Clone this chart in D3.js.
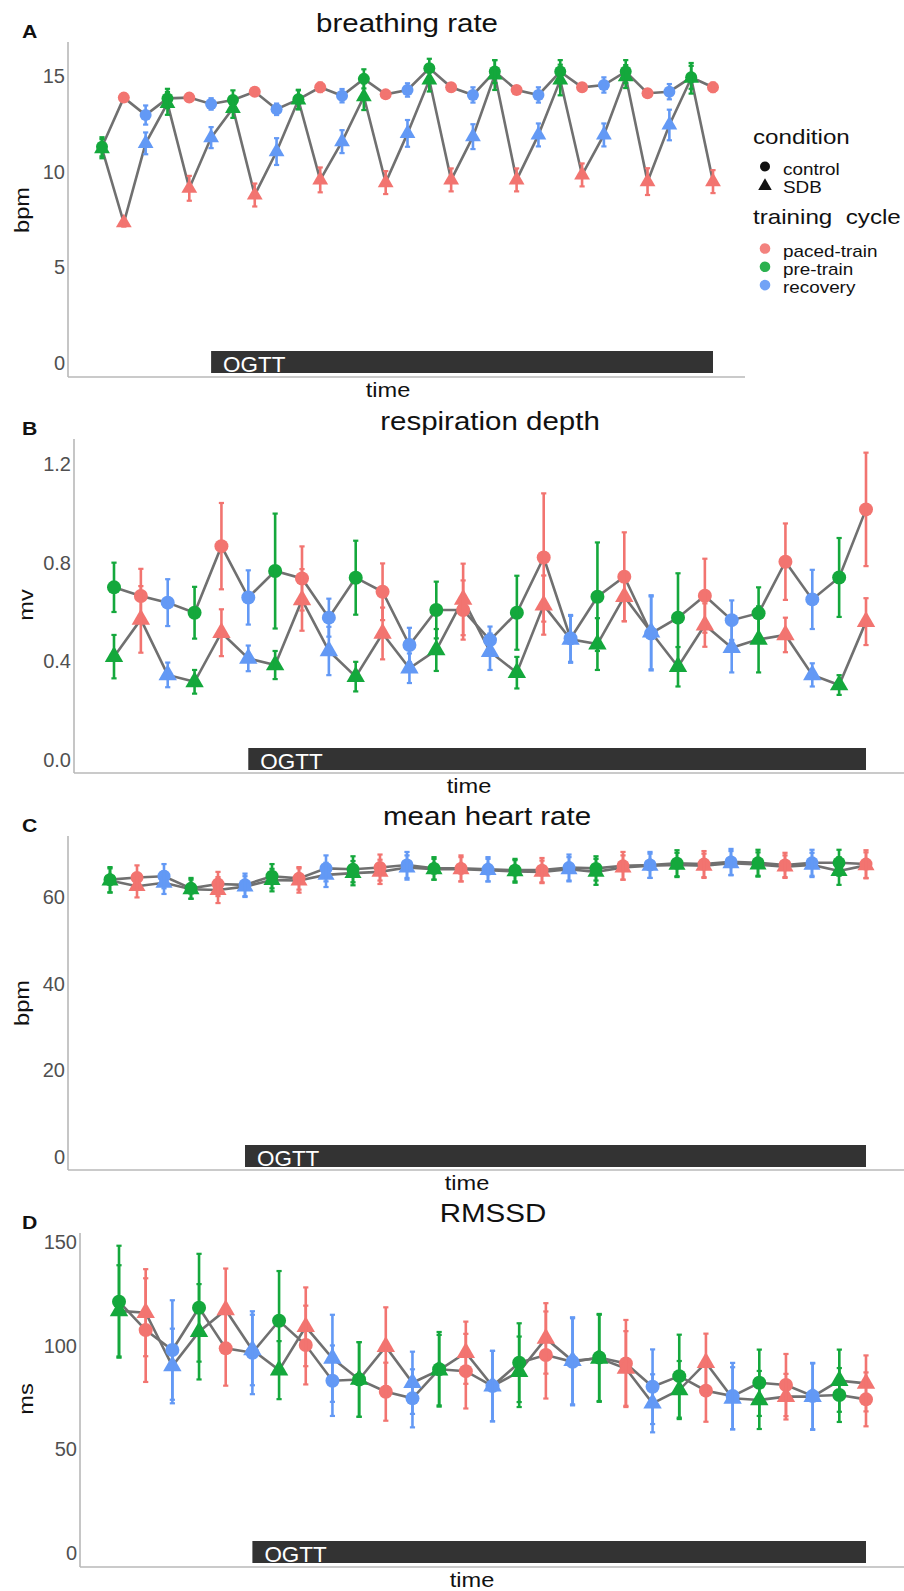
<!DOCTYPE html>
<html>
<head>
<meta charset="utf-8">
<title>breathing / respiration / heart rate / RMSSD</title>
<script src="https://cdn.jsdelivr.net/npm/d3@7"></script>
<style>
  body { margin: 0; background: #fff; }
  svg { display: block; font-family: "Liberation Sans", Arial, sans-serif; }
  .tick text { fill: #505050; font-size: 20px; }
</style>
</head>
<body>
<svg id="chart" width="904" height="1591"></svg>
<script>
// ---- data ----
const times = [1,2,3,4,5,6,7,8,9,10,11,12,13,14,15,16,17,18,19,20,21,22,23,24,25,26,27,28,29];
const cycle = ["pre-train","paced-train","recovery","pre-train","paced-train","recovery","pre-train","paced-train","recovery",
  "pre-train","paced-train","recovery","pre-train","paced-train","recovery","pre-train","paced-train","recovery",
  "pre-train","paced-train","recovery","pre-train","paced-train","recovery","pre-train","paced-train","recovery",
  "pre-train","paced-train"];
const ogttSpan = [6, 29];

const cycleNames = ["paced-train","pre-train","recovery"];
const cycleColors = ["#F27470","#14A83C","#6399F5"];
const conditionNames = ["control","SDB"];

// A breathing rate (bpm)
const breathCtrl = [11.3,13.87,12.96,13.83,13.87,13.54,13.75,14.18,13.26,13.78,14.41,13.97,14.85,14.04,14.27,15.4,14.41,14.01,15.23,14.27,14.01,15.23,14.41,14.53,15.23,14.1,14.18,14.93,14.41];
const breathCtrlErr = [0.5,0.2,0.5,0.5,0.2,0.3,0.5,0.2,0.3,0.5,0.25,0.35,0.5,0.15,0.35,0.5,0.2,0.4,0.6,0.2,0.4,0.6,0.2,0.4,0.6,0.2,0.4,0.6,0.25];
const breathSdb = [11.2,7.33,11.48,13.57,9.13,11.78,13.31,8.78,11.05,13.75,9.57,11.57,13.92,9.43,12.0,14.79,9.57,11.83,15.05,9.57,11.92,14.79,9.83,11.92,14.97,9.48,12.44,14.88,9.48];
const breathSdbErr = [0.5,0.2,0.57,0.6,0.65,0.55,0.5,0.6,0.7,0.5,0.65,0.6,0.7,0.6,0.7,0.6,0.6,0.65,0.78,0.6,0.6,0.8,0.6,0.6,0.6,0.7,0.8,0.8,0.6];

// B respiration depth (mv)
const respCtrl = [0.70,0.665,0.638,0.597,0.867,0.659,0.766,0.736,0.577,0.739,0.682,0.466,0.608,0.608,0.486,0.597,0.821,0.493,0.662,0.743,0.513,0.577,0.666,0.567,0.595,0.804,0.651,0.74,1.016];
const respCtrlErr = [0.10,0.11,0.095,0.105,0.175,0.11,0.233,0.13,0.077,0.15,0.115,0.07,0.115,0.12,0.055,0.15,0.26,0.095,0.22,0.18,0.15,0.18,0.15,0.08,0.105,0.155,0.12,0.16,0.23];
const respSdb = [0.419,0.570,0.345,0.317,0.516,0.412,0.385,0.649,0.442,0.338,0.513,0.372,0.446,0.651,0.439,0.354,0.628,0.489,0.470,0.662,0.518,0.378,0.547,0.455,0.489,0.507,0.345,0.304,0.561];
const respSdbErr = [0.088,0.135,0.05,0.048,0.095,0.052,0.057,0.125,0.098,0.06,0.105,0.06,0.085,0.145,0.074,0.064,0.12,0.095,0.105,0.10,0.15,0.08,0.088,0.10,0.134,0.07,0.047,0.04,0.095];

// C mean heart rate (bpm)
const heartCtrl = [64.0,64.5,64.8,62.0,63.0,62.8,64.8,64.3,66.6,66.4,66.8,67.4,66.6,66.6,66.4,66.2,66.2,66.8,66.6,67.2,67.4,67.8,67.6,68.1,67.9,67.4,67.9,67.9,67.6];
const heartCtrlErr = [2.9,2.8,2.8,2.4,2.8,2.6,2.8,2.6,3.0,3.0,3.0,3.0,2.6,3.0,2.8,2.6,2.8,3.0,2.8,3.2,3.0,3.0,3.0,3.0,3.0,2.8,3.0,3.0,3.2];
const heartSdb = [63.8,62.5,63.3,61.8,61.6,62.4,63.9,63.8,65.1,65.5,65.8,66.8,66.4,66.4,66.2,65.9,65.8,66.4,65.8,66.8,67.2,67.4,67.2,67.8,67.5,67.0,67.4,66.0,67.3];
const heartSdbErr = [2.8,2.6,2.6,2.2,3.0,2.4,2.6,2.8,2.8,2.8,2.8,2.8,2.4,2.8,2.6,2.6,2.6,2.8,3.0,2.8,2.8,2.8,2.8,2.8,2.8,2.6,2.8,3.2,3.0];

// D RMSSD (ms)
const rmssdCtrl = [121.2,107.5,97.9,118.3,98.7,96.6,112.0,100.3,83.1,83.7,77.8,74.6,88.6,87.7,80.5,91.8,95.5,92.2,94.3,91.4,80.2,85.3,78.3,75.7,82.1,81.0,75.7,76.2,74.1];
const rmssdCtrlErr = [27,25,24,26,18,20,24,19,17,18,14,14,18,18,17,19,21,21,21,21,18,20,15,16,16,15,16,13,13];
const rmssdSdb = [116.8,115.9,90.2,106.7,117.2,97.9,88.2,109.1,93.9,83.7,99.5,82.1,88.2,96.6,80.5,87.4,103.5,92.7,93.9,89.0,72.2,78.6,91.8,74.6,73.8,75.4,75.4,83.1,81.8];
const rmssdSdbErr = [22,21,18,23,20,17,14,19,21,18,19,15,17,15,17,17,17,21,21,18,14,14,14,15,14,11,16,15,13.5];

// ---- layout ----
const SX = 1.18;   // the figure's lettering is wider than Arial
const color = d3.scaleOrdinal().domain(cycleNames).range(cycleColors);
const svg = d3.select("#chart");

const panels = [
  {letter:"A", title:"breathing rate", ylab:"bpm", ctrl:breathCtrl, ctrlErr:breathCtrlErr, sdb:breathSdb, sdbErr:breathSdbErr,
   ticks:[0,5,10,15], yMax:15, fmt:d3.format("d"),
   axisX:68, top:42, bottom:377, right:745, xr:[102,713], yr:[363,76],
   titleX:407, titleY:32, letterY:38, timeX:388, ylabX:29, ylabY:210, r:6},
  {letter:"B", title:"respiration depth", ylab:"mv", ctrl:respCtrl, ctrlErr:respCtrlErr, sdb:respSdb, sdbErr:respSdbErr,
   ticks:[0,0.4,0.8,1.2], yMax:1.2, fmt:d3.format(".1f"),
   axisX:74, top:439, bottom:773, right:904, xr:[114,866], yr:[760,464],
   titleX:490, titleY:430, letterY:435, timeX:469, ylabX:33, ylabY:605, r:7},
  {letter:"C", title:"mean heart rate", ylab:"bpm", ctrl:heartCtrl, ctrlErr:heartCtrlErr, sdb:heartSdb, sdbErr:heartSdbErr,
   ticks:[0,20,40,60], yMax:60, fmt:d3.format("d"),
   axisX:68, top:836, bottom:1170, right:904, xr:[110,866], yr:[1157,897],
   titleX:487, titleY:825, letterY:832, timeX:467, ylabX:29, ylabY:1003, r:6.5},
  {letter:"D", title:"RMSSD", ylab:"ms", ctrl:rmssdCtrl, ctrlErr:rmssdCtrlErr, sdb:rmssdSdb, sdbErr:rmssdSdbErr,
   ticks:[0,50,100,150], yMax:150, fmt:d3.format("d"),
   axisX:80, top:1233, bottom:1567, right:904, xr:[119,866], yr:[1553,1242],
   titleX:493, titleY:1222, letterY:1229, timeX:472, ylabX:33, ylabY:1399, r:7}
];

function addText(g, x, y, str, size, o) {
  o = o || {};
  var tf = "translate(" + x + "," + y + ")" + (o.rotate ? " rotate(-90)" : "") + " scale(" + (o.sx || SX) + ",1)";
  var t = g.append("text")
    .attr("transform", tf)
    .attr("font-size", size)
    .attr("text-anchor", o.anchor || "start")
    .attr("fill", o.fill || "#111")
    .style("white-space", "pre")
    .text(str);
  if (o.bold) t.attr("font-weight", "bold");
  return t;
}

panels.forEach(function(p) {
  var g = svg.append("g");
  var x = d3.scaleLinear().domain([times[0], times[times.length - 1]]).range(p.xr);
  var y = d3.scaleLinear().domain([0, p.yMax]).range(p.yr);

  // axes
  var ya = g.append("g")
    .attr("transform", "translate(" + p.axisX + ",0)")
    .call(d3.axisLeft(y).tickValues(p.ticks).tickFormat(p.fmt).tickSize(0).tickPadding(3));
  ya.select(".domain").remove();
  ya.selectAll("text").attr("font-family", null).attr("font-size", null);

  g.append("line").attr("x1", p.axisX).attr("x2", p.axisX).attr("y1", p.top).attr("y2", p.bottom)
    .attr("stroke", "#b8b8b8").attr("stroke-width", 1.6);
  g.append("line").attr("x1", p.axisX).attr("x2", p.right).attr("y1", p.bottom).attr("y2", p.bottom)
    .attr("stroke", "#b8b8b8").attr("stroke-width", 1.6);

  // OGTT bar
  g.append("rect")
    .attr("x", x(ogttSpan[0])).attr("width", x(ogttSpan[1]) - x(ogttSpan[0]))
    .attr("y", y(0) - 12).attr("height", 22)
    .attr("fill", "#333333");
  addText(g, x(ogttSpan[0]) + 12, y(0) + 8.5, "OGTT", 22, {fill:"#fff", sx:1.02});

  // data rows
  var rows = times.map(function(t, i) {
    return {t:t, cyc:cycle[i], c:p.ctrl[i], ce:p.ctrlErr[i], s:p.sdb[i], se:p.sdbErr[i]};
  });

  var line = d3.line().x(function(d){ return x(d.t); });
  g.append("path").datum(rows).attr("fill", "none").attr("stroke", "#707070").attr("stroke-width", 2.6)
    .attr("d", line.y(function(d){ return y(d.c); }));
  g.append("path").datum(rows).attr("fill", "none").attr("stroke", "#707070").attr("stroke-width", 2.6)
    .attr("d", line.y(function(d){ return y(d.s); }));

  // points
  g.selectAll(".pc").data(rows).enter().append("circle")
    .attr("cx", function(d){ return x(d.t); }).attr("cy", function(d){ return y(d.c); })
    .attr("r", p.r).attr("fill", function(d){ return color(d.cyc); });
  var tri = d3.symbol().type(d3.symbolTriangle).size(p.r * p.r * 3.0);
  g.selectAll(".ps").data(rows).enter().append("path")
    .attr("transform", function(d){ return "translate(" + x(d.t) + "," + y(d.s) + ")"; })
    .attr("d", tri).attr("fill", function(d){ return color(d.cyc); });

  // error bars
  function errBars(val, err) {
    var eg = g.append("g");
    rows.forEach(function(d) {
      var cx = x(d.t), lo = y(d[val] - d[err]), hi = y(d[val] + d[err]), col = color(d.cyc);
      eg.append("line").attr("x1", cx).attr("x2", cx).attr("y1", lo).attr("y2", hi)
        .attr("stroke", col).attr("stroke-width", 2.6);
      [lo, hi].forEach(function(yy) {
        eg.append("line").attr("x1", cx - 2.6).attr("x2", cx + 2.6).attr("y1", yy).attr("y2", yy)
          .attr("stroke", col).attr("stroke-width", 2.2);
      });
    });
  }
  errBars("c", "ce");
  errBars("s", "se");

  // labels
  addText(g, 22, p.letterY, p.letter, 18, {bold:true});
  addText(g, p.titleX, p.titleY, p.title, 25, {anchor:"middle"});
  addText(g, p.timeX, p.bottom + 19.5, "time", 20, {anchor:"middle"});
  addText(g, p.ylabX, p.ylabY, p.ylab, 20, {anchor:"middle", rotate:true});
});

// legend (panel A)
var lg = svg.append("g");
addText(lg, 753, 144, "condition", 20.5);
conditionNames.forEach(function(name, i) {
  var cy = 166.5 + i * 18.5;
  if (i === 0) lg.append("circle").attr("cx", 765).attr("cy", cy).attr("r", 5).attr("fill", "#111");
  else lg.append("path").attr("transform", "translate(765," + (cy + 1) + ")")
    .attr("d", d3.symbol().type(d3.symbolTriangle).size(80)).attr("fill", "#111");
  addText(lg, 783, cy + 8, name, 16);
});
addText(lg, 753, 223.5, "training  cycle", 20.5);
cycleNames.forEach(function(name, i) {
  var cy = 248.5 + i * 18.3;
  lg.append("circle").attr("cx", 765).attr("cy", cy).attr("r", 5.3).attr("fill", color(name)).attr("opacity", 0.9);
  addText(lg, 783, cy + 8, name, 16);
});
</script>
</body>
</html>
